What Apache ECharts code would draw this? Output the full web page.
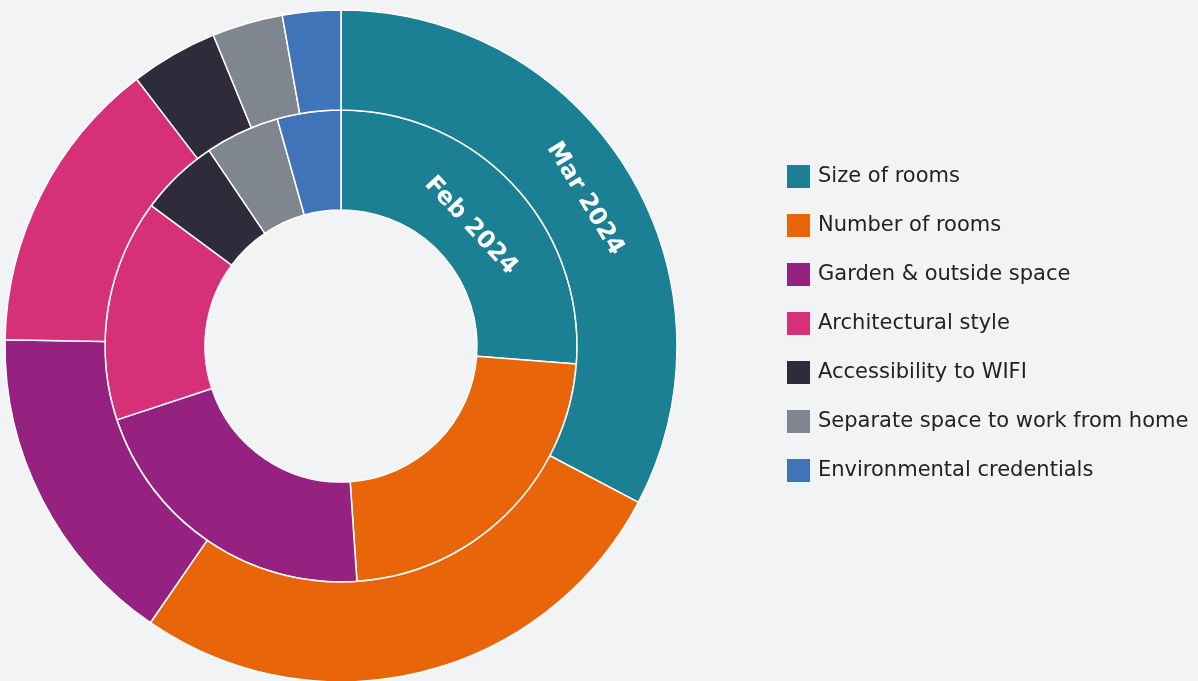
<!DOCTYPE html>
<html>
<head>
<meta charset="utf-8">
<script src="https://cdn.jsdelivr.net/npm/echarts@6/dist/echarts.min.js"></script>
<style>
html,body{margin:0;padding:0;background:#f2f3f5;}
#c{width:1198px;height:681px;}
</style>
</head>
<body>
<div id="c"></div>
<script>
const categories = ["Size of rooms","Number of rooms","Garden & outside space","Architectural style","Accessibility to WIFI","Separate space to work from home","Environmental credentials"];
const colors = ["#1b8093","#e9650a","#952281","#d63078","#2e2b3b","#7f868f","#4074b9"];
const febValues = [26.2, 22.7, 21.0, 15.2, 5.4, 5.1, 4.35];
const marValues = [32.7, 26.9, 15.7, 14.3, 4.2, 3.4, 2.8];
const seriesNames = ["Feb 2024","Mar 2024"];

function ringData(vals){
  return vals.map((v,i)=>({name: categories[i], value: v, itemStyle:{color: colors[i]}}));
}
function labelData(vals, name){
  return vals.map((v,i)=>({
    name: categories[i], value: v,
    label: i===0 ? {show:true, formatter: name} : {show:false}
  }));
}
const ringBase = {
  type:'pie', center:[341,346], startAngle:90, clockwise:true, avoidLabelOverlap:false,
  itemStyle:{borderColor:'#ffffff', borderWidth:1.5},
  label:{show:false}, labelLine:{show:false}, emphasis:{disabled:true}
};
const labelBase = {
  type:'pie', center:[341,346], startAngle:90, clockwise:true, avoidLabelOverlap:false,
  silent:true, legendHoverLink:false, emphasis:{disabled:true},
  itemStyle:{color:'rgba(0,0,0,0)', borderWidth:0},
  labelLine:{show:false},
  label:{position:'inside', rotate:'tangential', color:'#ffffff',
    fontFamily:'"DejaVu Sans", sans-serif', fontWeight:'bold', fontSize:24}
};
const chart = echarts.init(document.getElementById('c'));
chart.setOption({
  backgroundColor:'#f2f3f5',
  animation:false,
  legend:{
    orient:'vertical', left:782, top:160,
    itemWidth:23, itemHeight:23, itemGap:26,
    icon:'rect',
    itemStyle:{borderWidth:0},
    data: categories,
    textStyle:{fontFamily:'"DejaVu Sans", sans-serif', fontSize:21, color:'#222222', padding:[0,0,0,3]}
  },
  series:[
    Object.assign({}, ringBase, {name: seriesNames[0], radius:[136,236], data: ringData(febValues)}),
    Object.assign({}, ringBase, {name: seriesNames[1], radius:[236,336], data: ringData(marValues)}),
    Object.assign({}, labelBase, {name: seriesNames[0]+' label', radius:[150,198], data: labelData(febValues, seriesNames[0])}),
    Object.assign({}, labelBase, {name: seriesNames[1]+' label', radius:[258,306], data: labelData(marValues, seriesNames[1])})
  ]
});
</script>
</body>
</html>
